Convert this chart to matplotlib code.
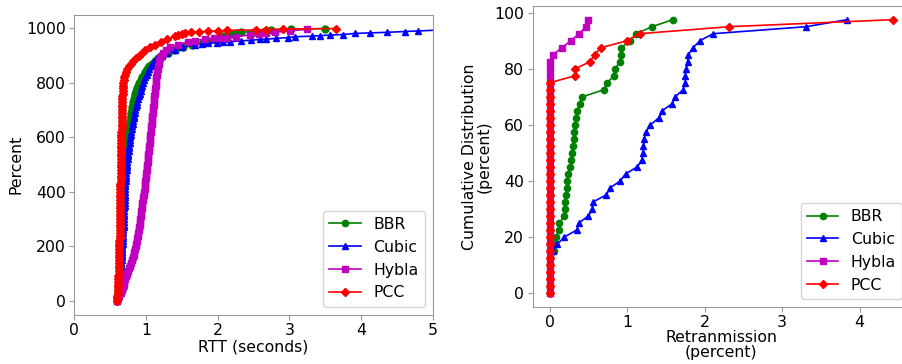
import matplotlib
matplotlib.use("Agg")
import matplotlib.pyplot as plt

plt.rcParams["font.family"] = ["DejaVu Sans"]
plt.rcParams["font.size"] = 11.3
plt.rcParams["axes.edgecolor"] = "0.6"
plt.rcParams["xtick.color"] = "0.6"
plt.rcParams["ytick.color"] = "0.6"
plt.rcParams["xtick.labelcolor"] = "black"
plt.rcParams["ytick.labelcolor"] = "black"
plt.rcParams["xtick.major.pad"] = 2.5
plt.rcParams["ytick.major.pad"] = 2.5

# ---- RTT CDF (left) ----
# percent levels where the dense part of every curve was read
body_pct = [0, 10, 20, 30, 40, 50, 60, 70, 80, 90,
            100, 110, 120, 130, 140, 150, 160, 170, 180, 190,
            200, 210, 220, 230, 240, 250, 260, 270, 280, 290,
            300, 310, 320, 330, 340, 350, 360, 370, 380, 390,
            400, 410, 420, 430, 440, 450, 460, 470, 480, 490,
            500, 510, 520, 530, 540, 550, 560, 570, 580, 590,
            600, 610, 620, 630, 640, 650, 660, 670, 680, 690,
            700, 710, 720, 730, 740, 750, 760, 770, 780, 790,
            800, 810, 820, 830, 840, 850]

bbr_body = [0.598, 0.603, 0.608, 0.612, 0.616, 0.619, 0.622, 0.625, 0.627, 0.630,
            0.632, 0.634, 0.636, 0.638, 0.640, 0.642, 0.644, 0.646, 0.648, 0.650,
            0.652, 0.654, 0.655, 0.657, 0.658, 0.660, 0.661, 0.663, 0.664, 0.666,
            0.667, 0.669, 0.670, 0.672, 0.673, 0.675, 0.676, 0.678, 0.679, 0.681,
            0.682, 0.684, 0.685, 0.687, 0.688, 0.690, 0.692, 0.694, 0.696, 0.698,
            0.700, 0.703, 0.706, 0.710, 0.713, 0.718, 0.722, 0.727, 0.732, 0.738,
            0.745, 0.752, 0.760, 0.764, 0.768, 0.773, 0.778, 0.784, 0.790, 0.796,
            0.802, 0.809, 0.816, 0.824, 0.832, 0.841, 0.850, 0.861, 0.872, 0.888,
            0.905, 0.925, 0.945, 0.967, 0.990, 1.017]
bbr_tail_pct = [860, 870, 880, 890, 900, 910, 920, 930, 940, 950,
                955, 960, 965, 970, 975, 980, 983, 985, 988, 990,
                992, 996, 999]
bbr_tail = [1.045, 1.08, 1.12, 1.17, 1.23, 1.31, 1.40, 1.52, 1.64, 1.79,
            1.87, 1.96, 2.03, 2.08, 2.14, 2.20, 2.25, 2.33, 2.50, 2.66,
            2.75, 3.03, 3.50]

cubic_body = [0.600, 0.606, 0.612, 0.617, 0.622, 0.626, 0.630, 0.634, 0.637, 0.640,
              0.643, 0.647, 0.650, 0.653, 0.656, 0.659, 0.661, 0.664, 0.667, 0.670,
              0.672, 0.675, 0.677, 0.679, 0.681, 0.683, 0.685, 0.688, 0.690, 0.692,
              0.694, 0.696, 0.697, 0.699, 0.700, 0.702, 0.703, 0.705, 0.706, 0.708,
              0.709, 0.711, 0.712, 0.714, 0.716, 0.718, 0.720, 0.724, 0.728, 0.733,
              0.738, 0.741, 0.745, 0.748, 0.752, 0.756, 0.760, 0.765, 0.770, 0.776,
              0.782, 0.788, 0.795, 0.801, 0.808, 0.815, 0.822, 0.829, 0.836, 0.844,
              0.852, 0.861, 0.870, 0.880, 0.890, 0.901, 0.912, 0.924, 0.936, 0.949,
              0.962, 0.977, 0.992, 1.008, 1.025, 1.045]
cubic_tail_pct = [860, 870, 880, 890, 900, 910, 920, 930, 939, 941,
                  945, 947, 948, 951, 954, 956, 959, 960, 963, 966,
                  969, 971, 973, 975, 977, 981, 983, 985, 988, 990,
                  997]
cubic_tail = [1.065, 1.087, 1.11, 1.16, 1.22, 1.30, 1.40, 1.50, 1.68, 1.78,
              1.87, 1.985, 2.08, 2.17, 2.33, 2.47, 2.59, 2.68, 2.82, 2.985,
              3.08, 3.31, 3.43, 3.57, 3.75, 3.915, 4.125, 4.36, 4.61, 4.79,
              5.40]

hybla_body = [0.600, 0.615, 0.630, 0.645, 0.660, 0.675, 0.690, 0.700, 0.710, 0.720,
              0.730, 0.745, 0.760, 0.775, 0.790, 0.803, 0.815, 0.827, 0.838, 0.848,
              0.858, 0.865, 0.872, 0.879, 0.885, 0.892, 0.898, 0.904, 0.910, 0.915,
              0.920, 0.925, 0.930, 0.935, 0.940, 0.945, 0.950, 0.956, 0.962, 0.968,
              0.975, 0.980, 0.984, 0.989, 0.993, 0.998, 1.002, 1.006, 1.010, 1.014,
              1.018, 1.022, 1.026, 1.030, 1.034, 1.038, 1.042, 1.046, 1.050, 1.054,
              1.058, 1.062, 1.066, 1.070, 1.074, 1.078, 1.082, 1.086, 1.090, 1.094,
              1.098, 1.102, 1.106, 1.110, 1.114, 1.118, 1.122, 1.126, 1.130, 1.134,
              1.138, 1.142, 1.146, 1.150, 1.155, 1.161]
hybla_tail_pct = [860, 870, 880, 890, 900, 910, 920, 930, 940, 950,
                  955, 960, 963, 965, 966, 969, 976, 978, 982, 985,
                  991, 996]
hybla_tail = [1.168, 1.176, 1.185, 1.198, 1.215, 1.24, 1.28, 1.34, 1.44, 1.58,
              1.68, 1.82, 1.95, 2.03, 2.13, 2.26, 2.45, 2.57, 2.68, 2.80,
              3.01, 3.25]

pcc_body = [0.595, 0.598, 0.601, 0.604, 0.606, 0.608, 0.610, 0.612, 0.614, 0.616,
            0.617, 0.618, 0.619, 0.620, 0.621, 0.623, 0.624, 0.625, 0.626, 0.627,
            0.628, 0.629, 0.630, 0.631, 0.632, 0.633, 0.634, 0.635, 0.636, 0.636,
            0.637, 0.637, 0.638, 0.638, 0.639, 0.640, 0.640, 0.641, 0.641, 0.642,
            0.643, 0.643, 0.644, 0.644, 0.645, 0.646, 0.647, 0.648, 0.649, 0.650,
            0.651, 0.651, 0.652, 0.652, 0.653, 0.654, 0.654, 0.655, 0.656, 0.656,
            0.657, 0.658, 0.658, 0.659, 0.660, 0.661, 0.662, 0.663, 0.664, 0.665,
            0.666, 0.667, 0.668, 0.669, 0.670, 0.672, 0.673, 0.675, 0.677, 0.680,
            0.685, 0.690, 0.698, 0.706, 0.720, 0.740]
pcc_tail_pct = [860, 870, 880, 890, 900, 910, 920, 930, 940, 950,
                960, 970, 975, 980, 983, 985, 987, 989, 990, 992,
                994, 995, 997, 999]
pcc_tail = [0.76, 0.79, 0.82, 0.86, 0.90, 0.94, 0.98, 1.05, 1.13, 1.21,
            1.30, 1.40, 1.45, 1.50, 1.54, 1.63, 1.74, 1.86, 2.00, 2.13,
            2.54, 2.68, 2.91, 3.65]

# ---- retransmission CDF (right) ----
cdf_pct = [0, 2.5, 5, 7.5, 10, 12.5, 15, 17.5, 20, 22.5,
           25, 27.5, 30, 32.5, 35, 37.5, 40, 42.5, 45, 47.5,
           50, 52.5, 55, 57.5, 60, 62.5, 65, 67.5, 70, 72.5,
           75, 77.5, 80, 82.5, 85, 87.5, 90, 92.5, 95, 97.5]
bbr_retx = [0, 0, 0, 0, 0, 0, 0.05, 0.07, 0.08, 0.12,
            0.125, 0.19, 0.20, 0.20, 0.21, 0.22, 0.22, 0.24, 0.26, 0.28,
            0.29, 0.30, 0.31, 0.31, 0.33, 0.34, 0.35, 0.39, 0.42, 0.70,
            0.74, 0.83, 0.84, 0.91, 0.92, 0.92, 1.04, 1.12, 1.32, 1.59]
cubic_retx = [0, 0, 0, 0, 0, 0, 0.04, 0.10, 0.19, 0.35,
              0.375, 0.50, 0.55, 0.56, 0.73, 0.78, 0.91, 0.98, 1.13, 1.19,
              1.20, 1.21, 1.22, 1.24, 1.30, 1.41, 1.45, 1.58, 1.62, 1.72,
              1.75, 1.75, 1.76, 1.78, 1.79, 1.85, 1.94, 2.11, 3.31, 3.84]
hybla_retx = [0, 0, 0, 0, 0, 0, 0, 0, 0, 0,
              0, 0, 0, 0, 0, 0, 0, 0, 0, 0,
              0, 0, 0, 0, 0, 0, 0, 0, 0, 0,
              0, 0, 0, 0, 0.04, 0.16, 0.27, 0.38, 0.47, 0.49]
pcc_retx = [0, 0, 0, 0, 0, 0, 0, 0, 0, 0,
            0, 0, 0, 0, 0, 0, 0, 0, 0, 0,
            0, 0, 0, 0, 0, 0, 0, 0, 0, 0,
            0, 0.33, 0.33, 0.52, 0.58, 0.66, 1.00, 1.16, 2.32, 4.43]

names = ["BBR", "Cubic", "Hybla", "PCC"]
colors = ["g", "b", "m", "r"]
markers = ["o", "^", "s", "D"]
msizes = [4.5, 4.5, 4.5, 3.8]
msizes_rtt = [5.0, 5.0, 5.0, 4.2]

fig = plt.figure(figsize=(9.02, 3.64), dpi=100)
ax1 = fig.add_axes([0.0824, 0.1357, 0.3973, 0.8234])
ax2 = fig.add_axes([0.5904, 0.1574, 0.4185, 0.8261])

left = [(bbr_body + bbr_tail, body_pct + bbr_tail_pct),
        (cubic_body + cubic_tail, body_pct + cubic_tail_pct),
        (hybla_body + hybla_tail, body_pct + hybla_tail_pct),
        (pcc_body + pcc_tail, body_pct + pcc_tail_pct)]
for (x, y), n, c, m, s in zip(left, names, colors, markers, msizes_rtt):
    ax1.plot(x, y, color=c, marker=m, markersize=s, linewidth=1.2, label=n)
ax1.set_xlim(0, 5)
ax1.set_ylim(-50, 1049)
ax1.set_xlabel("RTT (seconds)", labelpad=1)
ax1.set_ylabel("Percent", labelpad=2)
ax1.legend(loc="lower right", markerscale=0.9)

right = [bbr_retx, cubic_retx, hybla_retx, pcc_retx]
for x, n, c, m, s in zip(right, names, colors, markers, msizes):
    ax2.plot(x, cdf_pct, color=c, marker=m, markersize=s, linewidth=1.2, label=n)
ax2.set_xlabel("Retranmission\n(percent)", labelpad=0, linespacing=1.0)
ax2.set_ylabel("Cumulative Distribution\n(percent)", labelpad=2, linespacing=1.0)
ax2.legend(loc="lower right")

fig.savefig("out.png", dpi=100)
